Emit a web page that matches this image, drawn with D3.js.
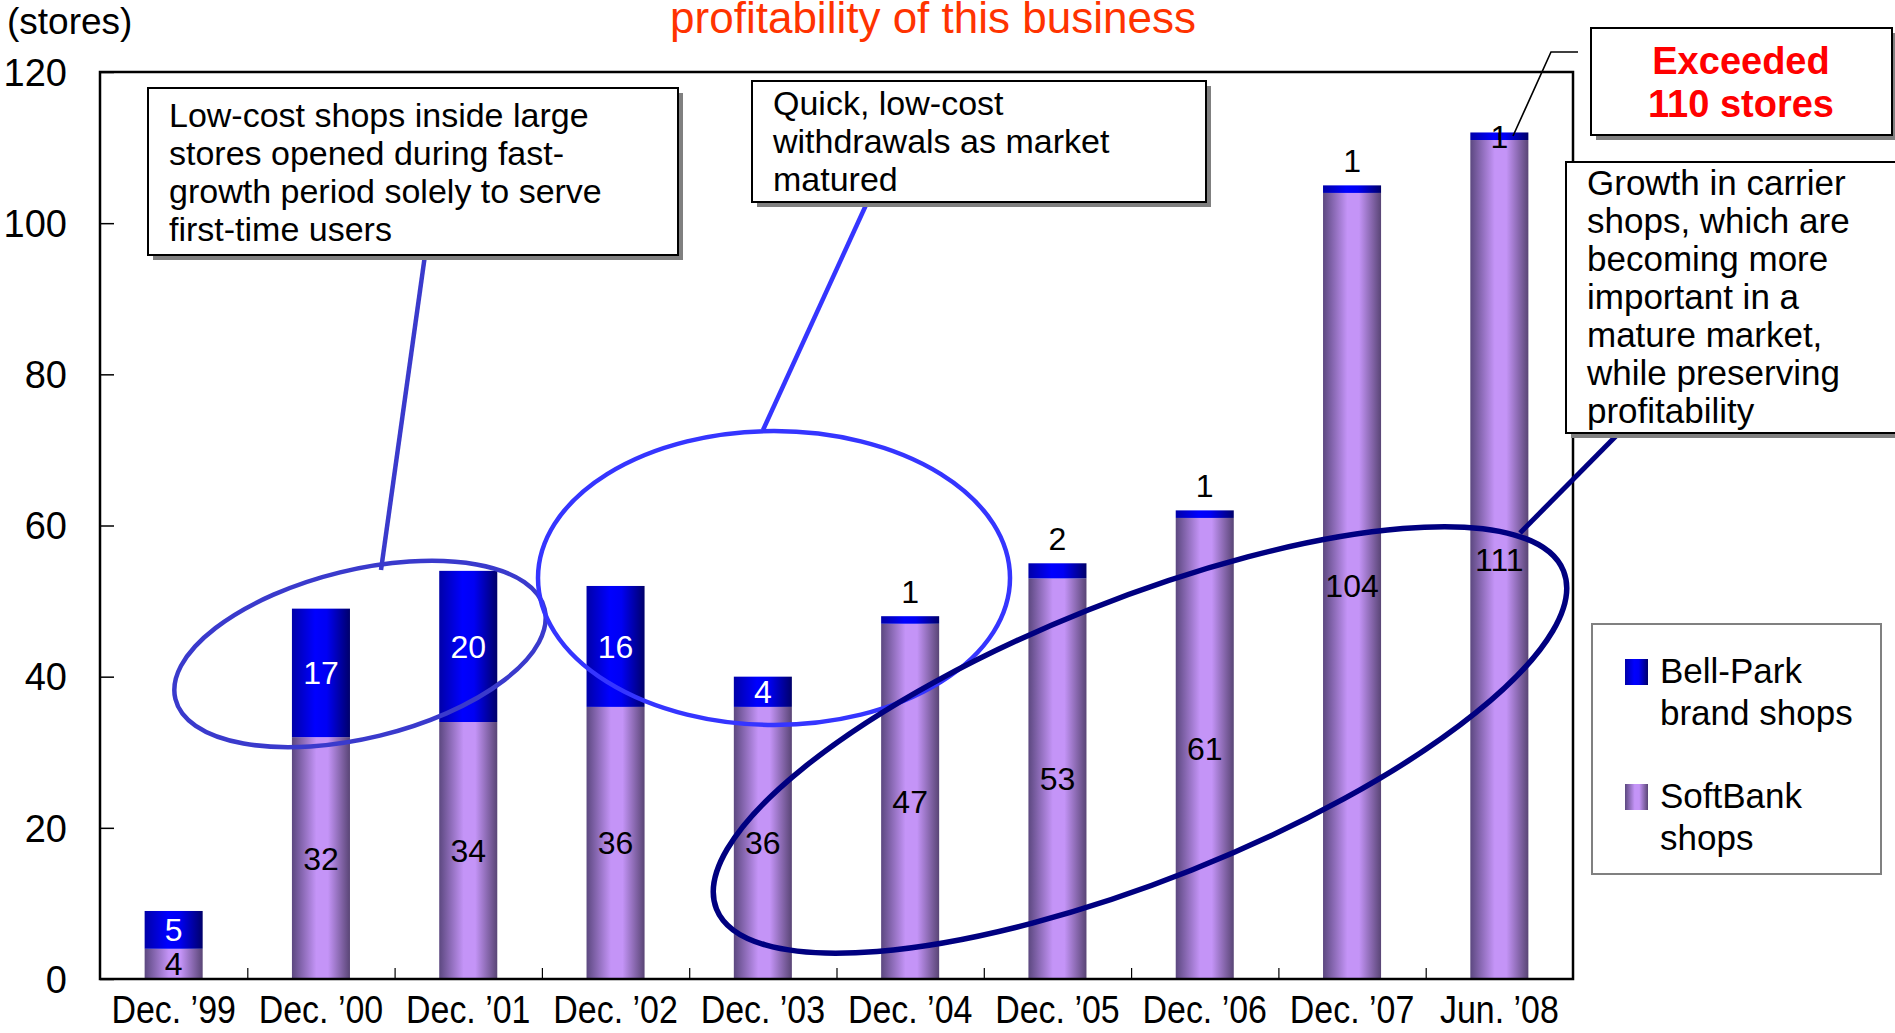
<!DOCTYPE html>
<html>
<head>
<meta charset="utf-8">
<script src="https://cdn.jsdelivr.net/npm/d3@7"></script>
<style>
  html, body { margin: 0; padding: 0; background: #fff; overflow: hidden; }
  #chart { width: 1895px; height: 1033px; }
</style>
</head>
<body>
<div id="chart"></div>
<script>
// Data
const categories = ['Dec. ’99', 'Dec. ’00', 'Dec. ’01', 'Dec. ’02', 'Dec. ’03', 'Dec. ’04', 'Dec. ’05', 'Dec. ’06', 'Dec. ’07', 'Jun. ’08'];
const softbankShops = [4, 32, 34, 36, 36, 47, 53, 61, 104, 111];
const bellParkShops = [5, 17, 20, 16, 4, 1, 2, 1, 1, 1];
const yTicks = [0, 20, 40, 60, 80, 100, 120];

const legendLabels = [['Bell-Park', 'brand shops'], ['SoftBank', 'shops']];
const noteLowCost = ['Low-cost shops inside large', 'stores opened during fast-', 'growth period solely to serve', 'first-time users'];
const noteWithdraw = ['Quick, low-cost', 'withdrawals as market', 'matured'];
const noteGrowth = ['Growth in carrier', 'shops, which are', 'becoming more', 'important in a', 'mature market,', 'while preserving', 'profitability'];
const noteExceeded = ['Exceeded', '110 stores'];
const titleTail = 'profitability of this business';
const unitLabel = '(stores)';

const Chart = {
  init() {
    this.wrapper = document.querySelector('#chart');
    if (!this.wrapper) return;

    this.data = categories.map((c, i) => ({
      cat: c,
      softbank: softbankShops[i],
      bell: bellParkShops[i],
    }));

    this.setVar();
    this.create();
    this.scales();
    this.axis();
    this.createBars();
    this.createLabels();
    this.createFrame();
    this.createCircles();
    this.createNotes();
    this.createLegend();
    this.createTitles();
  },

  setVar() {
    // Colors
    this.navy = '#000080';
    this.mid = '#3a3acc';
    this.bright = '#3535ff';
    this.red = '#ff0000';
    this.orange = '#ff3300';

    this.w = 1895;
    this.h = 1033;
    this.plot = { left: 100, right: 1573, top: 72, bottom: 979 };

    this.font = "'Liberation Sans', Arial, sans-serif";
  },

  create() {
    this.svg = d3.select('#chart').append('svg')
      .attr('width', this.w)
      .attr('height', this.h)
      .style('font-family', this.font);

    const defs = this.svg.append('defs');
    this.gradient(defs, 'grad-softbank', [[0, '#5c4880'], [0.42, '#c494f7'], [0.62, '#c494f7'], [1, '#594575']]);
    this.gradient(defs, 'grad-bell', [[0, '#0000a8'], [0.4, '#0000ff'], [0.6, '#0000f4'], [1, '#00006a']]);
  },

  gradient(defs, id, stops) {
    const g = defs.append('linearGradient')
      .attr('id', id)
      .attr('x1', 0).attr('x2', 1)
      .attr('y1', 0).attr('y2', 0);
    stops.forEach(([o, c]) => g.append('stop').attr('offset', o).attr('stop-color', c));
  },

  scales() {
    const { left, right, top, bottom } = this.plot;

    this.x = d3.scaleBand()
      .domain(categories)
      .range([left, right])
      .paddingInner(0.606)
      .paddingOuter(0.303);

    // continuous index scale for the boundary ticks
    this.xi = d3.scaleLinear()
      .domain([0, categories.length])
      .range([left, right]);

    this.y = d3.scaleLinear()
      .domain([0, 120])
      .range([bottom, top]);
  },

  axis() {
    const { left, bottom } = this.plot;

    this.ay = d3.axisLeft(this.y)
      .tickValues(yTicks)
      .tickSizeInner(-14)
      .tickSizeOuter(0)
      .tickPadding(33);

    this.ayCall = this.svg.append('g')
      .attr('transform', `translate(${left} 0)`)
      .call(this.ay);
    this.ayCall.select('.domain').remove();
    this.ayCall.selectAll('line').attr('stroke', '#000').attr('stroke-width', 1.5);
    this.ayCall.selectAll('text')
      .attr('font-family', this.font)
      .attr('font-size', 38)
      .attr('fill', '#000')
      .attr('dy', '0.35em');

    // boundary ticks between categories
    this.axTicks = d3.axisBottom(this.xi)
      .tickValues(d3.range(1, categories.length))
      .tickSizeInner(-11)
      .tickSizeOuter(0)
      .tickFormat('');
    this.axTickCall = this.svg.append('g')
      .attr('transform', `translate(0 ${bottom})`)
      .call(this.axTicks);
    this.axTickCall.select('.domain').remove();
    this.axTickCall.selectAll('line').attr('stroke', '#000').attr('stroke-width', 1.2);

    // category labels, squeezed to the narrow face of the original
    this.ax = d3.axisBottom(this.x).tickSize(0);
    this.axCall = this.svg.append('g')
      .attr('transform', `translate(0 ${bottom})`)
      .call(this.ax);
    this.axCall.select('.domain').remove();
    this.axCall.selectAll('text')
      .attr('font-family', this.font)
      .attr('font-size', 39)
      .attr('fill', '#000')
      .attr('y', 44)
      .attr('dy', 0)
      .attr('transform', 'scale(0.87 1)');
  },

  createBars() {
    this.series = d3.stack().keys(['softbank', 'bell'])(this.data);
    const fills = { softbank: 'url(#grad-softbank)', bell: 'url(#grad-bell)' };

    this.svg.append('g')
      .selectAll('g')
      .data(this.series)
      .join('g')
      .attr('fill', (s) => fills[s.key])
      .selectAll('rect')
      .data((s) => s)
      .join('rect')
      .attr('x', (d) => this.x(d.data.cat))
      .attr('y', (d) => this.y(d[1]))
      .attr('width', this.x.bandwidth())
      .attr('height', (d) => this.y(d[0]) - this.y(d[1]));
  },

  createLabels() {
    const { x, y } = this;
    const cx = (d) => x(d.data.cat) + x.bandwidth() / 2;
    const last = categories.length - 1;

    const g = this.svg.append('g')
      .attr('font-size', 32)
      .attr('text-anchor', 'middle');

    // SoftBank values in the middle of the purple part
    g.selectAll('.lab-sb')
      .data(this.series[0])
      .join('text')
      .attr('class', 'lab-sb')
      .attr('x', cx)
      .attr('y', (d) => y((d[0] + d[1]) / 2))
      .attr('dy', '0.36em')
      .attr('fill', '#000')
      .text((d) => d[1] - d[0]);

    // Bell-Park values: inside when there is room, above the bar otherwise
    g.selectAll('.lab-bp')
      .data(this.series[1])
      .join('text')
      .attr('class', 'lab-bp')
      .attr('x', cx)
      .attr('y', (d, i) => {
        const v = d[1] - d[0];
        if (v >= 3 || i === last) return y((d[0] + d[1]) / 2);
        return y(d[1]) - 25;
      })
      .attr('dy', '0.36em')
      .attr('fill', (d) => (d[1] - d[0] >= 3 ? '#fff' : '#000'))
      .text((d) => d[1] - d[0]);
  },

  createFrame() {
    const { left, right, top, bottom } = this.plot;
    this.svg.append('rect')
      .attr('x', left)
      .attr('y', top)
      .attr('width', right - left)
      .attr('height', bottom - top)
      .attr('fill', 'none')
      .attr('stroke', '#000')
      .attr('stroke-width', 2.5);
  },

  ellipse(cx, cy, rx, ry, rot, color, sw) {
    this.svg.append('ellipse')
      .attr('cx', cx).attr('cy', cy)
      .attr('rx', rx).attr('ry', ry)
      .attr('transform', `rotate(${rot} ${cx} ${cy})`)
      .attr('fill', 'none')
      .attr('stroke', color)
      .attr('stroke-width', sw);
  },

  leader(points, color, sw) {
    this.svg.append('path')
      .attr('d', d3.line()(points))
      .attr('fill', 'none')
      .attr('stroke', color)
      .attr('stroke-width', sw);
  },

  createCircles() {
    this.ellipse(360, 654, 190, 84, -13.7, this.mid, 4.5);
    this.ellipse(774, 578, 236, 147, 0, this.bright, 4.5);
    this.ellipse(1140, 740, 456, 140, -21.75, this.navy, 5.5);

    this.leader([[425, 255], [381, 570]], this.mid, 4.5);
    this.leader([[866, 205], [763, 430]], this.bright, 4.5);
    this.leader([[1520, 533], [1616, 436]], this.navy, 5);
    this.leader([[1578, 52], [1551, 52], [1513, 136]], '#000', 1.6);
  },

  box(x, y, w, h, shadow) {
    if (shadow) {
      this.svg.append('rect')
        .attr('x', x + 5).attr('y', y + 5)
        .attr('width', w).attr('height', h)
        .attr('fill', '#808080');
    }
    this.svg.append('rect')
      .attr('x', x).attr('y', y)
      .attr('width', w).attr('height', h)
      .attr('fill', '#fff')
      .attr('stroke', '#000')
      .attr('stroke-width', 2);
  },

  lines(lines, x, y0, step, size, opts = {}) {
    this.svg.append('g')
      .attr('font-size', size)
      .attr('fill', opts.fill || '#000')
      .attr('font-weight', opts.weight || 'normal')
      .attr('text-anchor', opts.anchor || 'start')
      .selectAll('text')
      .data(lines)
      .join('text')
      .attr('x', x)
      .attr('y', (d, i) => y0 + i * step)
      .text((d) => d);
  },

  createNotes() {
    this.box(148, 88, 530, 167, true);
    this.lines(noteLowCost, 169, 127, 38, 34);

    this.box(752, 81, 454, 121, true);
    this.lines(noteWithdraw, 773, 115, 38, 34);

    this.box(1591, 28, 301, 107, true);
    this.lines(noteExceeded, 1741, 74, 43, 38, { fill: this.red, weight: 'bold', anchor: 'middle' });

    this.box(1566, 162, 340, 271, true);
    this.lines(noteGrowth, 1587, 195, 38, 35);
  },

  createLegend() {
    this.svg.append('rect')
      .attr('x', 1592).attr('y', 624)
      .attr('width', 289).attr('height', 250)
      .attr('fill', '#fff')
      .attr('stroke', '#808080')
      .attr('stroke-width', 2);

    const fills = ['url(#grad-bell)', 'url(#grad-softbank)'];
    const tops = [659, 784];
    legendLabels.forEach((lab, i) => {
      this.svg.append('rect')
        .attr('x', 1625).attr('y', tops[i])
        .attr('width', 23).attr('height', 26)
        .attr('fill', fills[i]);
      this.lines(lab, 1660, tops[i] + 24, 42, 35);
    });
  },

  createTitles() {
    this.svg.append('text')
      .attr('x', 7)
      .attr('y', 34)
      .attr('font-size', 37)
      .text(unitLabel);

    // the title's last line sits right at the top edge
    this.svg.append('text')
      .attr('x', 933)
      .attr('y', 33)
      .attr('font-size', 44)
      .attr('text-anchor', 'middle')
      .attr('fill', this.orange)
      .text(titleTail);
  },
};

Chart.init();
</script>
</body>
</html>
